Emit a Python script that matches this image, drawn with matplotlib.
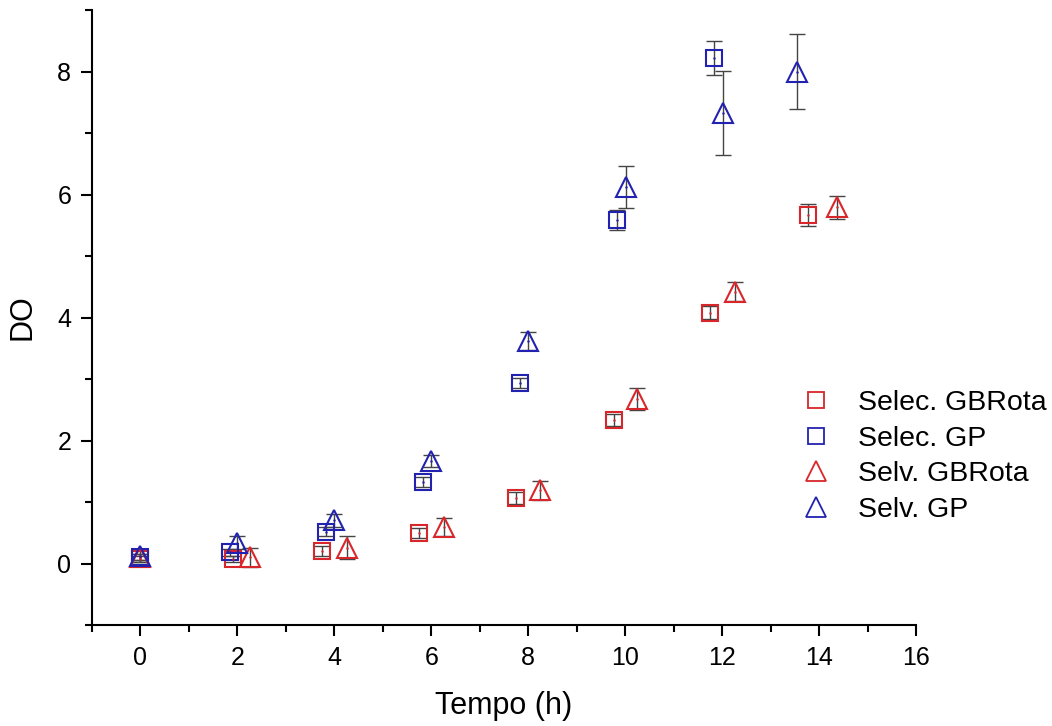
import matplotlib
matplotlib.use('Agg')
import matplotlib.pyplot as plt
from matplotlib.lines import Line2D
from matplotlib.ticker import MultipleLocator

plt.rcParams['font.family'] = ['Liberation Sans', 'DejaVu Sans']

# Selec. GBRota (quadrados vermelhos)
x_sel_gbr = [0.0, 1.9, 3.75, 5.75, 7.75, 9.77, 11.75, 13.77]
y_sel_gbr = [0.07, 0.08, 0.2, 0.5, 1.07, 2.33, 4.08, 5.67]
e_sel_gbr = [0.05, 0.05, 0.08, 0.08, 0.1, 0.1, 0.1, 0.18]

# Selec. GP (quadrados azuis)
x_sel_gp = [0.0, 1.84, 3.82, 5.83, 7.84, 9.84, 11.83]
y_sel_gp = [0.1, 0.18, 0.52, 1.32, 2.94, 5.59, 8.22]
e_sel_gp = [0.05, 0.06, 0.08, 0.08, 0.08, 0.16, 0.27]

# Selv. GBRota (triangulos vermelhos)
x_selv_gbr = [0.0, 2.27, 4.27, 6.27, 8.25, 10.25, 12.27, 14.37]
y_selv_gbr = [0.1, 0.1, 0.26, 0.59, 1.19, 2.68, 4.42, 5.79]
e_selv_gbr = [0.05, 0.15, 0.18, 0.15, 0.15, 0.18, 0.15, 0.19]

# Selv. GP (triangulos azuis)
x_selv_gp = [0.0, 2.0, 4.0, 6.0, 8.0, 10.02, 12.02, 13.55]
y_selv_gp = [0.13, 0.34, 0.7, 1.67, 3.62, 6.12, 7.33, 8.0]
e_selv_gp = [0.1, 0.1, 0.1, 0.1, 0.15, 0.34, 0.68, 0.61]

red = '#d8262a'
blue = '#2222b0'
err_color = '#444444'

fig = plt.figure(figsize=(10.52, 7.26), dpi=100)
ax = fig.add_axes([92 / 1052, 1 - 625 / 726, (916 - 92) / 1052, (625 - 10) / 726])

series = [
    (x_sel_gbr, y_sel_gbr, e_sel_gbr, 's', red, 12, 'Selec. GBRota'),
    (x_sel_gp, y_sel_gp, e_sel_gp, 's', blue, 12, 'Selec. GP'),
    (x_selv_gbr, y_selv_gbr, e_selv_gbr, '^', red, 15, 'Selv. GBRota'),
    (x_selv_gp, y_selv_gp, e_selv_gp, '^', blue, 15, 'Selv. GP'),
]

handles = []
for x, y, e, m, c, ms, lab in series:
    ax.errorbar(x, y, yerr=e, fmt='none', ecolor=err_color, elinewidth=1.0,
                capsize=6, capthick=1.0, zorder=2)
    ax.plot(x, y, linestyle='none', marker=m, markersize=ms, markerfacecolor='none',
            markeredgecolor=c, markeredgewidth=1.5, zorder=3)
    ax.plot(x, y, linestyle='none', marker='.', markersize=1.5, color=c, zorder=4)
    handles.append(Line2D([], [], linestyle='none', marker=m, markersize=ms - 0.5,
                          markerfacecolor='none', markeredgecolor=c,
                          markeredgewidth=1.3, label=lab))

ax.set_xlim(-1, 16)
ax.set_ylim(-1, 9)
ax.xaxis.set_major_locator(MultipleLocator(2))
ax.xaxis.set_minor_locator(MultipleLocator(1))
ax.yaxis.set_major_locator(MultipleLocator(2))
ax.yaxis.set_minor_locator(MultipleLocator(1))

for s in ['top', 'right']:
    ax.spines[s].set_visible(False)
for s in ['left', 'bottom']:
    ax.spines[s].set_linewidth(1.5)

ax.tick_params(which='major', direction='out', length=8, width=1.5, labelsize=18, pad=7)
ax.tick_params(which='minor', direction='out', length=5, width=1.5)

ax.set_xlabel('Tempo (h)', fontsize=22, labelpad=15)
ax.set_ylabel('DO', fontsize=22, labelpad=14)

ax.legend(handles=handles, loc='upper left', bbox_to_anchor=(0.83, 0.4),
          frameon=False, fontsize=20.5, handletextpad=0.5, labelspacing=0.33,
          borderaxespad=0)

fig.savefig('out.png', dpi=100)
